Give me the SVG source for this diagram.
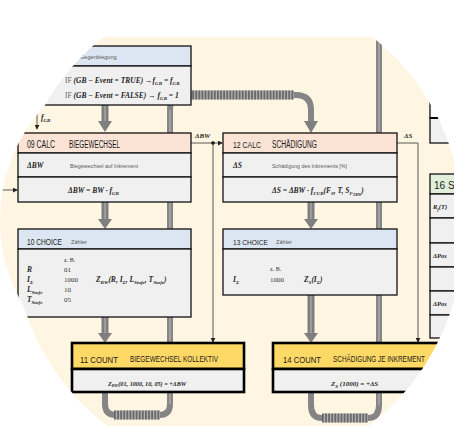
<svg xmlns="http://www.w3.org/2000/svg" width="454" height="426" viewBox="0 0 454 426">
<defs>
<style>
.h{font-family:"Liberation Sans",Arial,sans-serif;font-size:10px;fill:#1a1a1a}
.m{font-family:"Liberation Serif","Times New Roman",serif;font-style:italic;font-weight:bold;font-size:7.5px;fill:#262626}
.v{font-family:"Liberation Serif","Times New Roman",serif;font-size:7px;fill:#333}
.s{font-family:"Liberation Sans",Arial,sans-serif;font-size:5.6px;fill:#595959}
.box{stroke:#111;stroke-width:1.3}
.boxk{stroke:#000;stroke-width:2.6}
.blue{fill:#DCE6F2}
.pink{fill:#FBE3D6}
.gray{fill:#F0F0F0}
.yel{fill:#FFD966}
.green{fill:#E2EFDA}
.thin{fill:none;stroke:#333;stroke-width:0.8}
.bar{fill:none;stroke:#858585;stroke-width:6}
.barc{fill:none;stroke:#A8A8A8;stroke-width:1.6}
.hbar{fill:none;stroke:#B0B0B0;stroke-width:9}
.hstr{fill:none;stroke:#6A6A6A;stroke-width:9;stroke-dasharray:1.8 1.3}
.shaft{fill:#7F7F7F}
.shl{fill:#A9A9A9}
.head{fill:#7F7F7F}
</style>
<marker id="ah" viewBox="0 0 6 6" refX="5" refY="3" markerWidth="5" markerHeight="5" orient="auto" markerUnits="userSpaceOnUse">
<path d="M0,0 L6,3 L0,6 Z" fill="#222"/>
</marker>
<clipPath id="ell"><ellipse cx="238" cy="230" rx="226" ry="240"/><circle cx="168" cy="220" r="168"/></clipPath>
<clipPath id="top"><rect x="0" y="37" width="454" height="389"/></clipPath>
</defs>
<rect width="454" height="426" fill="#fff"/>
<g clip-path="url(#ell)">
<g clip-path="url(#top)">
<rect x="0" y="0" width="454" height="426" fill="#FEF5E2"/>

<g id="connectors">
<path class="bar" d="M105,392 V404 Q105,415 116,415 H159 Q170,415 170,404 V110 Q170,95 185,95 H296 Q311,95 311,110 V122"/>
<path class="barc" d="M170,404 V110"/>
<path class="hbar" d="M114,415 H160"/>
<path class="hstr" d="M114,415 H160"/>
<path class="hbar" d="M186,95 H294"/>
<path class="hstr" d="M186,95 H294"/>
<polygon class="head" points="304,121 318,121 311,133"/>
<path class="bar" d="M311,392 V405 Q311,418 322,418 H368 Q379,418 379,405 V40"/>
<path class="barc" d="M379,405 V40"/>
<path class="hbar" d="M322,418 H368"/>
<path class="hstr" d="M322,418 H368"/>
<rect class="shaft" x="101.5" y="105" width="7" height="17"/><rect class="shl" x="104.3" y="105" width="1.4" height="17"/><polygon class="head" points="98,121 112,121 105,132"/>
<rect class="shaft" x="101.5" y="202" width="7" height="18"/><rect class="shl" x="104.3" y="202" width="1.4" height="18"/><polygon class="head" points="98,219 112,219 105,229"/>
<rect class="shaft" x="101.5" y="317" width="7" height="17"/><rect class="shl" x="104.3" y="317" width="1.4" height="17"/><polygon class="head" points="98,333 112,333 105,343"/>
<rect class="shaft" x="307.5" y="202" width="7" height="18"/><rect class="shl" x="310.3" y="202" width="1.4" height="18"/><polygon class="head" points="304,219 318,219 311,229"/>
<rect class="shaft" x="307.5" y="295" width="7" height="39"/><rect class="shl" x="310.3" y="295" width="1.4" height="39"/><polygon class="head" points="304,333 318,333 311,343"/>
<line class="thin" x1="37" y1="106" x2="37" y2="129" marker-end="url(#ah)"/>
<line class="thin" x1="0" y1="190" x2="17" y2="190" marker-end="url(#ah)"/>
<path class="thin" d="M191,143 H222" marker-end="url(#ah)"/>
<circle cx="213" cy="143" r="1.8" fill="#111"/>
<path class="thin" d="M213,143 V342" marker-end="url(#ah)"/>
<path class="thin" d="M397,143 H418 V342" marker-end="url(#ah)"/>
<text class="m" x="41" y="120">f<tspan font-size="5" dy="1.5">GB</tspan></text>
<text class="m" x="195" y="138" style="font-size:7px">ΔBW</text>
<text class="m" x="404" y="138" style="font-size:7px">ΔS</text>
</g>

<g id="n08">
<rect class="box blue" x="-10" y="46" width="201" height="20"/>
<rect class="box gray" x="-10" y="66" width="201" height="39"/>
<text class="s" x="80" y="59">Gegenbiegung</text>
<text class="m" x="65" y="83"><tspan font-style="normal" font-weight="normal" fill="#666">IF</tspan> (GB − Event = TRUE) →f<tspan font-size="5" dy="1.5">GB</tspan><tspan dy="-1.5"> = f</tspan><tspan font-size="5" dy="1.5">GB</tspan></text>
<text class="m" x="65" y="98"><tspan font-style="normal" font-weight="normal" fill="#666">IF</tspan> (GB − Event = FALSE) → f<tspan font-size="5" dy="1.5">GB</tspan><tspan dy="-1.5"> = 1</tspan></text>
</g>

<g id="n09">
<rect class="box pink" x="18" y="133" width="173" height="20"/>
<rect class="box gray" x="18" y="153" width="173" height="24"/>
<rect class="box gray" x="18" y="177" width="173" height="25"/>
<text class="h" x="27" y="147.5" textLength="28" lengthAdjust="spacingAndGlyphs">09 CALC</text>
<text class="h" x="69" y="147.5" textLength="51" lengthAdjust="spacingAndGlyphs">BIEGEWECHSEL</text>
<text class="m" x="27" y="168">ΔBW</text>
<text class="s" x="70" y="167.5" textLength="68" lengthAdjust="spacingAndGlyphs">Biegewechsel auf Inkrement</text>
<text class="m" x="68" y="193">ΔBW = BW · f<tspan font-size="5" dy="1.5">GB</tspan></text>
</g>

<g id="n10">
<rect class="box blue" x="18" y="229" width="173" height="20"/>
<rect class="box gray" x="18" y="249" width="173" height="68"/>
<text class="h" x="27" y="244.5" style="font-size:8.2px" textLength="35" lengthAdjust="spacingAndGlyphs">10 CHOICE</text>
<text class="s" x="71" y="244">Zähler</text>
<text class="v" x="64" y="262" style="font-size:6px">z. B.</text>
<text class="m" x="27" y="272">R</text><text class="v" x="64" y="272">01</text>
<text class="m" x="27" y="282">I<tspan font-size="5" dy="1.5">Σ</tspan></text><text class="v" x="64" y="282">1000</text>
<text class="m" x="96" y="282">Z<tspan font-size="5" dy="1.5">BW</tspan><tspan dy="-1.5">(R, I</tspan><tspan font-size="5" dy="1.5">Σ</tspan><tspan dy="-1.5">, L</tspan><tspan font-size="5" dy="1.5">Stufe</tspan><tspan dy="-1.5">, T</tspan><tspan font-size="5" dy="1.5">Stufe</tspan><tspan dy="-1.5">)</tspan></text>
<text class="m" x="27" y="292">L<tspan font-size="5" dy="1.5">Stufe</tspan></text><text class="v" x="64" y="292">10</text>
<text class="m" x="27" y="302">T<tspan font-size="5" dy="1.5">Stufe</tspan></text><text class="v" x="64" y="302">05</text>
</g>

<g id="n11">
<rect class="boxk yel" x="72" y="343" width="172" height="26"/>
<rect class="boxk gray" x="72" y="369" width="172" height="23"/>
<text class="h" x="80" y="362.5" style="font-size:9.8px" textLength="38" lengthAdjust="spacingAndGlyphs">11 COUNT</text>
<text class="h" x="130" y="362" style="font-size:8.6px" textLength="88" lengthAdjust="spacingAndGlyphs">BIEGEWECHSEL KOLLEKTIV</text>
<text class="m" x="108" y="385.5" style="font-size:6.2px">Z<tspan font-size="4.2" dy="1.3">BW</tspan><tspan dy="-1.3">(01, 1000, 10, 05) = +ΔBW</tspan></text>
</g>

<g id="n12">
<rect class="box pink" x="223" y="133" width="174" height="20"/>
<rect class="box gray" x="223" y="153" width="174" height="24"/>
<rect class="box gray" x="223" y="177" width="174" height="25"/>
<text class="h" x="233" y="147.5" style="font-size:9.3px" textLength="28" lengthAdjust="spacingAndGlyphs">12 CALC</text>
<text class="h" x="272" y="147.5" textLength="45" lengthAdjust="spacingAndGlyphs">SCHÄDIGUNG</text>
<text class="m" x="233" y="168">ΔS</text>
<text class="s" x="272" y="167.5" textLength="75" lengthAdjust="spacingAndGlyphs">Schädigung des Inkrements [%]</text>
<text class="m" x="272" y="193">ΔS = ΔBW · f<tspan font-size="5" dy="1.5">CUB</tspan><tspan dy="-1.5">(F</tspan><tspan font-size="5" dy="1.5">S</tspan><tspan dy="-1.5">, T, S</tspan><tspan font-size="5" dy="1.5">F</tspan><tspan font-size="4" dy="1">TRW</tspan><tspan dy="-2.5">)</tspan></text>
</g>

<g id="n13">
<rect class="box blue" x="223" y="229" width="174" height="20"/>
<rect class="box gray" x="223" y="249" width="174" height="46"/>
<text class="h" x="233" y="244.5" style="font-size:8px" textLength="35" lengthAdjust="spacingAndGlyphs">13 CHOICE</text>
<text class="s" x="276" y="244">Zähler</text>
<text class="v" x="270" y="271" style="font-size:6px">z. B.</text>
<text class="m" x="233" y="282">I<tspan font-size="5" dy="1.5">Σ</tspan></text>
<text class="v" x="270" y="282">1000</text>
<text class="m" x="304" y="282">Z<tspan font-size="5" dy="1.5">S</tspan><tspan dy="-1.5">(I</tspan><tspan font-size="5" dy="1.5">Σ</tspan><tspan dy="-1.5">)</tspan></text>
</g>

<g id="n14">
<rect class="boxk yel" x="273" y="343" width="172" height="26"/>
<rect class="boxk gray" x="273" y="369" width="172" height="23"/>
<text class="h" x="283" y="362.5" style="font-size:9.8px" textLength="38" lengthAdjust="spacingAndGlyphs">14 COUNT</text>
<text class="h" x="333" y="362" style="font-size:8.6px" textLength="92" lengthAdjust="spacingAndGlyphs">SCHÄDIGUNG JE INKREMENT</text>
<text class="m" x="331" y="386" style="font-size:7px">Z<tspan font-size="5" dy="1.5">S</tspan><tspan dy="-1.5"> (1000) = +ΔS</tspan></text>
</g>

<g id="n15">
<rect x="430" y="80" width="40" height="38" fill="#fff" class="box"/>
<rect x="430" y="118" width="40" height="25" class="box gray"/>
<line x1="430" y1="118" x2="470" y2="118" stroke="#000" stroke-width="2"/>
</g>

<g id="n16">
<rect class="box green" x="430" y="174" width="50" height="20"/>
<rect class="box gray" x="430" y="194" width="50" height="24"/>
<rect class="box gray" x="430" y="218" width="50" height="25"/>
<rect class="box gray" x="430" y="243" width="50" height="24"/>
<rect class="box gray" x="430" y="267" width="50" height="24"/>
<rect class="box gray" x="430" y="291" width="50" height="24"/>
<rect class="box gray" x="430" y="315" width="50" height="23"/>
<text class="h" x="434" y="189">16 S</text>
<text class="m" x="433" y="209" style="font-size:6.5px">R<tspan font-size="4.5" dy="1.5">f</tspan><tspan dy="-1.5">(T)</tspan></text>
<text class="m" x="433" y="258" style="font-size:6.5px">ΔPos</text>
<text class="m" x="433" y="306" style="font-size:6.5px">ΔPos</text>
</g>
</g>
</g>
</svg>
